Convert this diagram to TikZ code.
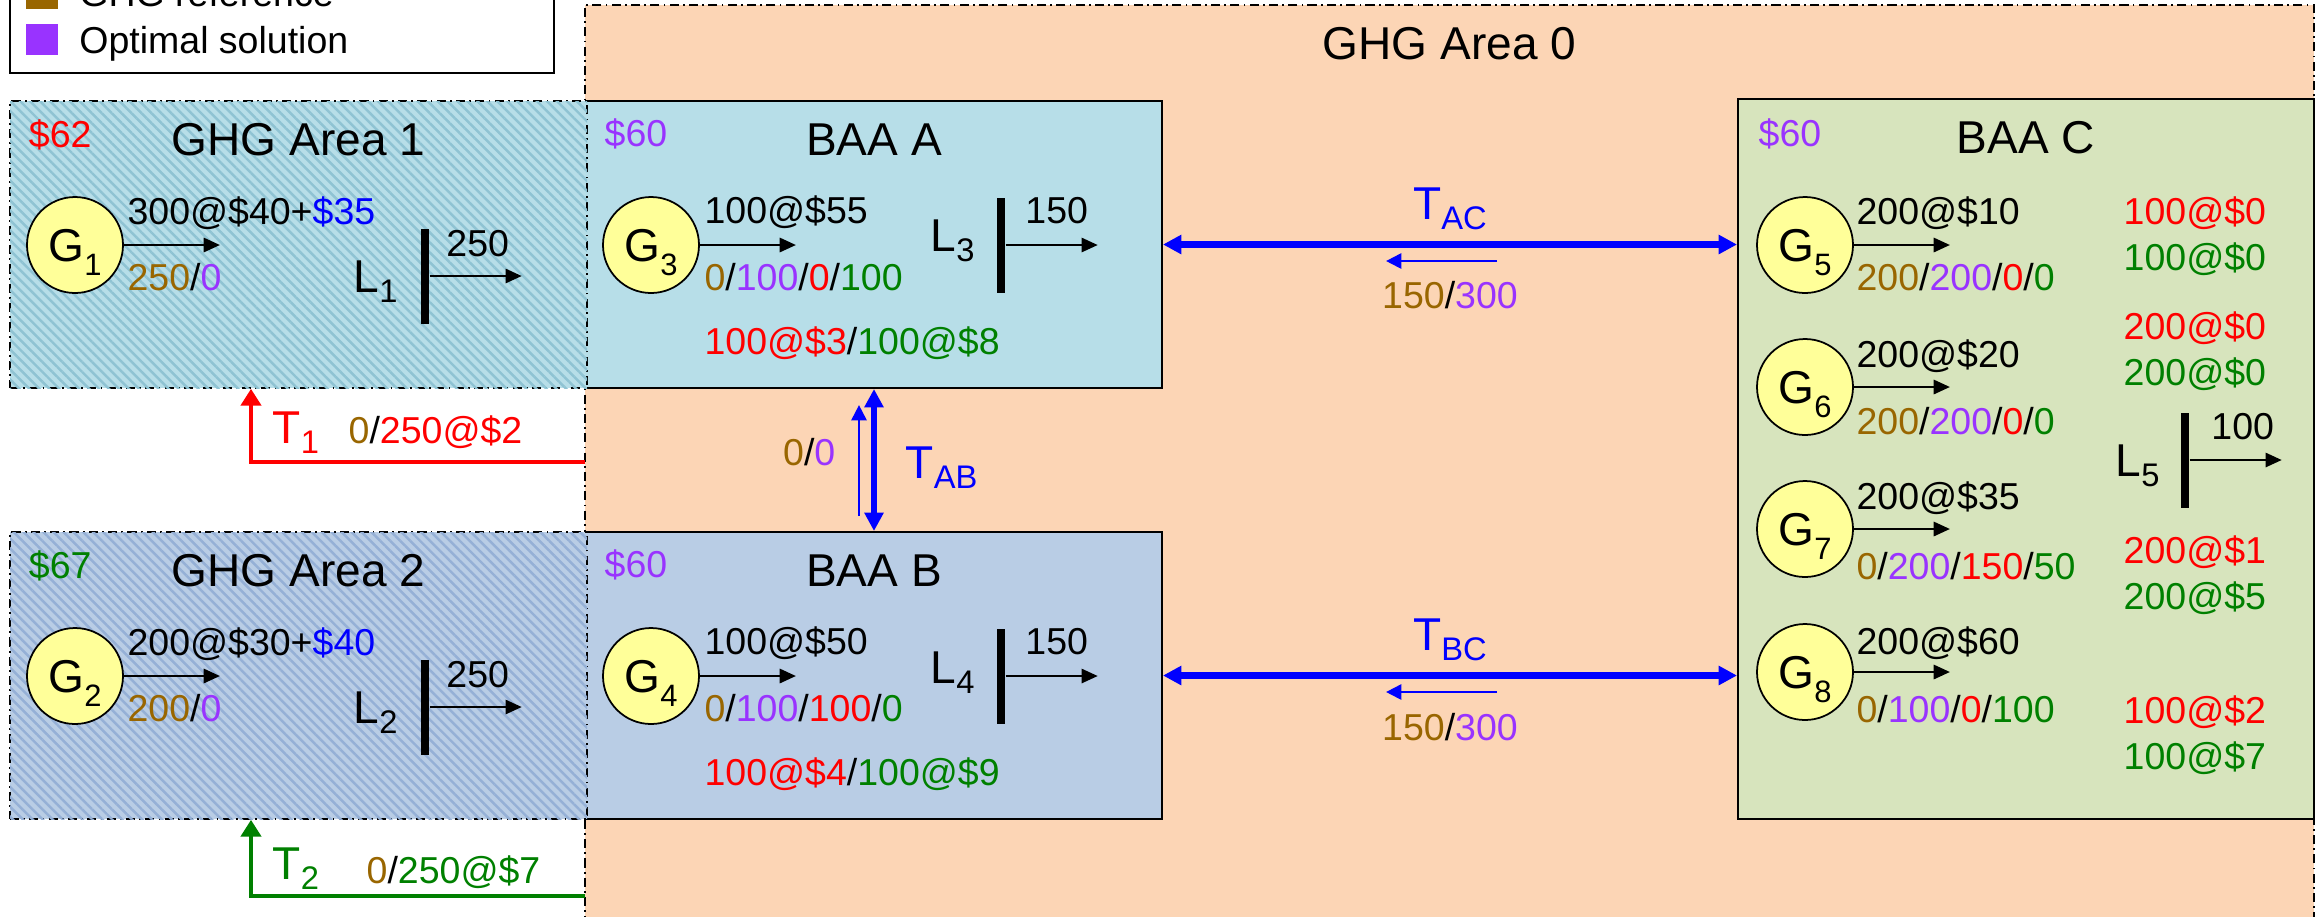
\documentclass[tikz,border=0pt]{standalone}
\usepackage{fontspec}
\setmainfont{Liberation Sans}
\usepackage{tikz}
\usetikzlibrary{positioning,arrows.meta,fit,patterns.meta}
\usepackage{xcolor}
\definecolor{peach}{HTML}{FCD5B5}
\definecolor{paneA}{HTML}{B7DEE8}
\definecolor{paneB}{HTML}{B9CDE5}
\definecolor{paneC}{HTML}{D7E4BD}
\definecolor{hatchA}{HTML}{8FC3D3}
\definecolor{hatchB}{HTML}{95B0D6}
\definecolor{genfill}{HTML}{FFFF99}
\definecolor{rf}{HTML}{996600}
\definecolor{op}{HTML}{9933FF}
\definecolor{rd}{HTML}{FF0000}
\definecolor{gn}{HTML}{008000}
\definecolor{bu}{HTML}{0000FF}
\newcommand\numfont{\fontsize{10.67pt}{12pt}\selectfont}
\newcommand\ttlfont{\fontsize{13.1pt}{15pt}\selectfont}
\newcommand\bigsub[1]{\raisebox{-0.22em}{\fontsize{9.3pt}{10pt}\selectfont #1}}
\newcommand\gsub[1]{\raisebox{-0.3em}{\fontsize{8.8pt}{10pt}\selectfont #1}}

\begin{document}
\begin{tikzpicture}[x=0.1mm,y=-0.1mm,
      area/.style={draw=black,line width=0.45pt,inner sep=0pt,
                   dash pattern=on 2.6pt off 1.2pt on 0.5pt off 1.2pt},
      box/.style={draw=black,line width=0.57pt,inner sep=0pt},
      gen/.style={circle,draw=black,fill=genfill,line width=0.5pt,minimum size=9.6mm,
                  inner sep=0pt,text height=9.38pt,text depth=0pt,font=\ttlfont},
      ld/.style={fill=black,minimum width=0.8mm,minimum height=9.5mm,inner sep=0pt},
      num/.style={inner sep=0pt,text height=7.64pt,text depth=0pt,font=\numfont},
      ttl/.style={inner sep=0pt,text height=9.38pt,text depth=0pt,font=\ttlfont},
      sq/.style={minimum width=3.2mm,minimum height=3.1mm,inner sep=0pt},
      arr/.style={-{Triangle[length=4.6pt,width=4.1pt]},line width=0.5pt},
      tie/.style={draw=bu,line width=1.85pt,{Triangle[length=5.2pt,width=5.2pt]}-{Triangle[length=5.2pt,width=5.2pt]}},
      flow/.style={draw=bu,line width=0.8pt,-{Triangle[length=4.4pt,width=4.3pt]}},
      feed/.style={line width=1.4pt,-{Triangle[length=4.8pt,width=5.7pt]}}]

    \path[use as bounding box,clip] (0,0) rectangle (2323,916);

    % areas and balancing authorities
    \node[area,fill=peach,fit={(585,5) (2314,990)}] (area0) {};
    \node[box,fill=paneA,fit={(586,101) (1162,388)}] (baaA) {};
    \node[box,fill=paneB,fit={(586,532) (1162,819)}] (baaB) {};
    \node[box,fill=paneC,fit={(1738,99) (2314,819)}] (baaC) {};
    \node[area,fill=paneA,postaction={pattern={Lines[angle=-45,distance=2pt,line width=0.7pt]},pattern color=hatchA},
          fit={(10,101) (587,388)}] (area1) {};
    \node[area,fill=paneB,postaction={pattern={Lines[angle=-45,distance=2pt,line width=0.7pt]},pattern color=hatchB},
          fit={(10,532) (587,819)}] (area2) {};

    % legend
    \node[draw=black,fill=white,line width=0.5pt,inner sep=0pt,fit={(10,-120) (554,73)}] (legend) {};
    \node[sq,fill=rf] (sqref) at (42,-6.5) {};
    \node[num,right=2mm of sqref] (txtref) {GHG reference};
    \node[sq,fill=op,below=1.4mm of sqref] (sqopt) {};
    \node[num,right=2mm of sqopt] (txtopt) {Optimal solution};

    % titles and prices
    \node[ttl,below=2.2mm of area0.north] (ttl0) {GHG Area 0};
    \node[ttl,below=2.2mm of area1.north] (ttl1) {GHG Area 1};
    \node[ttl,below=2.2mm of area2.north] (ttl2) {GHG Area 2};
    \node[ttl,below=2.2mm of baaA.north] (ttlA) {BAA A};
    \node[ttl,below=2.2mm of baaB.north] (ttlB) {BAA B};
    \node[ttl,below=2.2mm of baaC.north] (ttlC) {BAA C};
    \node[num,text=rd,below right=2mm and 1.9mm of area1.north west] (pr1) {\$62};
    \node[num,text=gn,below right=2mm and 1.9mm of area2.north west] (pr2) {\$67};
    \node[num,text=op,below right=1.9mm and 1.9mm of baaA.north west] (prA) {\$60};
    \node[num,text=op,below right=1.9mm and 1.9mm of baaB.north west] (prB) {\$60};
    \node[num,text=op,below right=2.1mm and 2.1mm of baaC.north west] (prC) {\$60};

    % GHG area 1 and 2
    \node[gen] (g1) at (75,245) {G\gsub{1}};
    \draw[arr] (g1.east) -- ++(96,0) coordinate (g1o);
    \node[num,above right=2mm and 0.3mm of g1.east] (g1bid) {300@\$40+\textcolor{bu}{\$35}};
    \node[num,below right=1.8mm and 0.3mm of g1.east] (g1out) {\textcolor{rf}{250}/\textcolor{op}{0}};
    \node[ld] (l1) at (425,276) {};
    \draw[arr] (l1.east) -- ++(92,0) coordinate (l1o);
    \node[ttl,left=2.2mm of l1] (l1n) {L\bigsub{1}};
    \node[num,above right=1.9mm and 1.6mm of l1.east] (l1d) {250};

    \node[gen] (g2) at (75,676) {G\gsub{2}};
    \draw[arr] (g2.east) -- ++(96,0) coordinate (g2o);
    \node[num,above right=2mm and 0.3mm of g2.east] (g2bid) {200@\$30+\textcolor{bu}{\$40}};
    \node[num,below right=1.8mm and 0.3mm of g2.east] (g2out) {\textcolor{rf}{200}/\textcolor{op}{0}};
    \node[ld] (l2) at (425,707) {};
    \draw[arr] (l2.east) -- ++(92,0) coordinate (l2o);
    \node[ttl,left=2.2mm of l2] (l2n) {L\bigsub{2}};
    \node[num,above right=1.9mm and 1.6mm of l2.east] (l2d) {250};

    % BAA A and B
    \node[gen] (g3) at (651,245) {G\gsub{3}};
    \draw[arr] (g3.east) -- ++(96,0) coordinate (g3o);
    \node[num,above right=2.1mm and 0.4mm of g3.east] (g3bid) {100@\$55};
    \node[num,below right=1.8mm and 0.4mm of g3.east] (g3out)
         {\textcolor{rf}{0}/\textcolor{op}{100}/\textcolor{rd}{0}/\textcolor{gn}{100}};
    \node[num,below right=3.6mm and 0mm of g3out.south west] (g3rs)
         {\textcolor{rd}{100@\$3}/\textcolor{gn}{100@\$8}};
    \node[ld] (l3) at (1001,245) {};
    \draw[arr] (l3.east) -- ++(92,0) coordinate (l3o);
    \node[ttl,left=2.1mm of l3,yshift=2.9pt] (l3n) {L\bigsub{3}};
    \node[num,above right=2.1mm and 1.9mm of l3.east] (l3d) {150};

    \node[gen] (g4) at (651,676) {G\gsub{4}};
    \draw[arr] (g4.east) -- ++(96,0) coordinate (g4o);
    \node[num,above right=2.1mm and 0.4mm of g4.east] (g4bid) {100@\$50};
    \node[num,below right=1.8mm and 0.4mm of g4.east] (g4out)
         {\textcolor{rf}{0}/\textcolor{op}{100}/\textcolor{rd}{100}/\textcolor{gn}{0}};
    \node[num,below right=3.6mm and 0mm of g4out.south west] (g4rs)
         {\textcolor{rd}{100@\$4}/\textcolor{gn}{100@\$9}};
    \node[ld] (l4) at (1001,676) {};
    \draw[arr] (l4.east) -- ++(92,0) coordinate (l4o);
    \node[ttl,left=2.1mm of l4,yshift=2.6pt] (l4n) {L\bigsub{4}};
    \node[num,above right=2.1mm and 1.9mm of l4.east] (l4d) {150};

    % BAA C
    \node[gen] (g5) at (1805,245) {G\gsub{5}};
    \draw[arr] (g5.east) -- ++(96,0) coordinate (g5o);
    \node[num,above right=2mm and 0.2mm of g5.east] (g5bid) {200@\$10};
    \node[num,below right=1.8mm and 0.2mm of g5.east] (g5out)
         {\textcolor{rf}{200}/\textcolor{op}{200}/\textcolor{rd}{0}/\textcolor{gn}{0}};
    \node[gen] (g6) at (1805,387) {G\gsub{6}};
    \draw[arr] (g6.east) -- ++(96,0) coordinate (g6o);
    \node[num,above right=1.9mm and 0.2mm of g6.east] (g6bid) {200@\$20};
    \node[num,below right=2mm and 0.2mm of g6.east] (g6out)
         {\textcolor{rf}{200}/\textcolor{op}{200}/\textcolor{rd}{0}/\textcolor{gn}{0}};
    \node[gen] (g7) at (1805,529) {G\gsub{7}};
    \draw[arr] (g7.east) -- ++(96,0) coordinate (g7o);
    \node[num,above right=1.9mm and 0.2mm of g7.east] (g7bid) {200@\$35};
    \node[num,below right=2.3mm and 0.2mm of g7.east] (g7out)
         {\textcolor{rf}{0}/\textcolor{op}{200}/\textcolor{rd}{150}/\textcolor{gn}{50}};
    \node[gen] (g8) at (1805,672) {G\gsub{8}};
    \draw[arr] (g8.east) -- ++(96,0) coordinate (g8o);
    \node[num,above right=1.7mm and 0.2mm of g8.east] (g8bid) {200@\$60};
    \node[num,below right=2.3mm and 0.2mm of g8.east] (g8out)
         {\textcolor{rf}{0}/\textcolor{op}{100}/\textcolor{rd}{0}/\textcolor{gn}{100}};
    \node[ld] (l5) at (2185,460) {};
    \draw[arr] (l5.east) -- ++(92,0) coordinate (l5o);
    \node[ttl,left=2mm of l5] (l5n) {L\bigsub{5}};
    \node[num,above right=2mm and 2.1mm of l5.east] (l5d) {100};

    \node[num,text=rd,anchor=west] (g5r) at (2123,211) {100@\$0};
    \node[num,text=gn,below=1.8mm of g5r] (g5g) {100@\$0};
    \node[num,text=rd,anchor=west] (g6r) at (2123,326) {200@\$0};
    \node[num,text=gn,below=1.8mm of g6r] (g6g) {200@\$0};
    \node[num,text=rd,anchor=west] (g7r) at (2123,550) {200@\$1};
    \node[num,text=gn,below=1.8mm of g7r] (g7g) {200@\$5};
    \node[num,text=rd,anchor=west] (g8r) at (2123,710) {100@\$2};
    \node[num,text=gn,below=1.8mm of g8r] (g8g) {100@\$7};

    % transfers into GHG areas
    \coordinate (t1s) at (585,462);
    \draw[feed,draw=rd] (t1s) -| ([xshift=-4.75mm]area1.south);
    \node[ttl,text=rd,anchor=base west] (t1n) at (272,443) {T\bigsub{1}};
    \node[num,anchor=base west] (t1v) at (348,443) {\textcolor{rf}{0}/\textcolor{rd}{250@\$2}};
    \coordinate (t2s) at (585,896);
    \draw[feed,draw=gn] (t2s) -| ([xshift=-4.75mm]area2.south);
    \node[ttl,text=gn,anchor=base west] (t2n) at (272,879) {T\bigsub{2}};
    \node[num,anchor=base west] (t2v) at (366,883) {\textcolor{rf}{0}/\textcolor{gn}{250@\$7}};

    % transmission between BAAs
    \draw[tie] (baaA.south) -- (baaB.north);
    \coordinate (abf0) at (859,516);
    \coordinate (abf1) at (859,405);
    \draw[flow] (abf0) -- (abf1);
    \node[num,anchor=east] (abv) at (836,452) {\textcolor{rf}{0}/\textcolor{op}{0}};
    \node[ttl,text=bu,anchor=west] (abn) at (905,462) {T\bigsub{AB}};

    \draw[tie] (baaA.east) -- node[ttl,text=bu,above=2.2mm] (acn) {T\bigsub{AC}}
        node[num,below=3.35mm] (acv) {\textcolor{rf}{150}/\textcolor{op}{300}} (baaA.east -| baaC.west);
    \coordinate (acf0) at (1497,261);
    \coordinate (acf1) at (1386,261);
    \draw[flow] (acf0) -- (acf1);

    \draw[tie] (baaB.east) -- node[ttl,text=bu,above=2.2mm] (bcn) {T\bigsub{BC}}
        node[num,below=3.5mm] (bcv) {\textcolor{rf}{150}/\textcolor{op}{300}} (baaB.east -| baaC.west);
    \coordinate (bcf0) at (1497,692);
    \coordinate (bcf1) at (1386,692);
    \draw[flow] (bcf0) -- (bcf1);
  \end{tikzpicture}
\end{document}
